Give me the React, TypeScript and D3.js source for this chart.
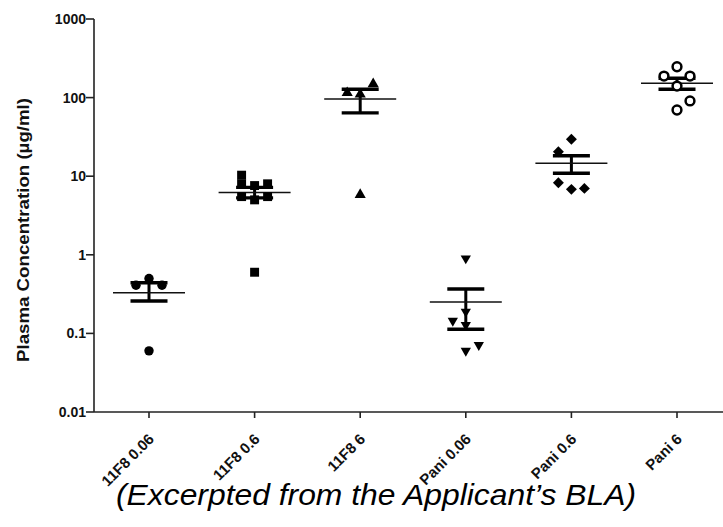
import React from 'react';
import * as d3 from 'd3';

// ---------- data ----------
const categories = ['11F8 0.06', '11F8 0.6', '11F8 6', 'Pani 0.06', 'Pani 0.6', 'Pani 6'];
const yTickValues = [0.01, 0.1, 1, 10, 100, 1000];
const yTickLabels = ['0.01', '0.1', '1', '10', '100', '1000'];

const g1Values = [0.5, 0.41, 0.41, 0.06];
const g1Slots = [0, -1, 1, 0];
const g2Values = [10.3, 8.0, 7.6, 8.0, 5.5, 5.0, 5.5, 0.6];
const g2Slots = [-1, -1, 0, 1, -1, 0, 1, 0];
const g3Values = [149, 115, 110, 5.8];
const g3Slots = [1, -1, 0, 0];
const g4Values = [0.9, 0.189, 0.145, 0.128, 0.06, 0.071];
const g4Slots = [0, 0, -1, 0, 0, 1];
const g5Values = [29.5, 20.5, 8.26, 6.8, 7.0];
const g5Slots = [0, -1, -1, 0, 1];
const g6Values = [247, 188, 188, 140, 69.5, 90.6];
const g6Slots = [0, -1, 1, 0, 0, 1];

const groupValues = [g1Values, g2Values, g3Values, g4Values, g5Values, g6Values];
const groupSlots = [g1Slots, g2Slots, g3Slots, g4Slots, g5Slots, g6Slots];

const means = [0.33, 6.2, 96, 0.25, 14.6, 152];
const semLow = [0.258, 5.3, 64, 0.113, 10.9, 127.6];
const semHigh = [0.44, 7.2, 127.6, 0.367, 18.2, 176];

const markerKinds = ['circle', 'square', 'triangleUp', 'triangleDown', 'diamond', 'openCircle'];

// ---------- layout ----------
const W = 723;
const H = 527;
const axisX = 94;
const axisY = 412;
const topY = 19;
const font = '"Liberation Sans", Arial, Helvetica, sans-serif';

const y = d3.scaleLog().domain([0.01, 1000]).range([axisY, topY]);
const x = d3.scalePoint<string>().domain(categories).range([149, 677]);
const jitter = 13;

function symbolPath(kind: string): { d: string; rotate: number; fill: string; stroke: string; sw: number } {
  switch (kind) {
    case 'circle':
      return { d: d3.symbol().type(d3.symbolCircle).size(Math.PI * 4.7 * 4.7)() as string, rotate: 0, fill: '#000', stroke: 'none', sw: 0 };
    case 'square':
      return { d: d3.symbol().type(d3.symbolSquare).size(80)() as string, rotate: 0, fill: '#000', stroke: 'none', sw: 0 };
    case 'triangleUp':
      return { d: d3.symbol().type(d3.symbolTriangle).size(54)() as string, rotate: 0, fill: '#000', stroke: 'none', sw: 0 };
    case 'triangleDown':
      return { d: d3.symbol().type(d3.symbolTriangle).size(46)() as string, rotate: 180, fill: '#000', stroke: 'none', sw: 0 };
    case 'diamond':
      return { d: d3.symbol().type(d3.symbolSquare).size(60)() as string, rotate: 45, fill: '#000', stroke: 'none', sw: 0 };
    default:
      return { d: d3.symbol().type(d3.symbolCircle).size(Math.PI * 4.4 * 4.4)() as string, rotate: 0, fill: '#fff', stroke: '#000', sw: 2.5 };
  }
}

export default function App() {
  return (
    <svg
      width={W}
      height={H}
      viewBox={`0 0 ${W} ${H}`}
      style={{ position: 'absolute', left: 0, top: 0, background: '#fff' }}
      fontFamily={font}
    >
      <rect x={0} y={0} width={W} height={H} fill="#fff" />

      {/* Y axis */}
      <line x1={axisX} x2={axisX} y1={topY} y2={axisY} stroke="#222" strokeWidth={1.6} />
      {yTickValues.map((v, i) => (
        <g key={'yt' + i}>
          <line x1={axisX - 8} x2={axisX} y1={y(v)} y2={y(v)} stroke="#222" strokeWidth={1.6} />
          <text
            x={axisX - 8}
            y={y(v)}
            dy="0.36em"
            textAnchor="end"
            fontSize={14}
            fontWeight="bold"
            fill="#111"
          >
            {yTickLabels[i]}
          </text>
        </g>
      ))}
      <text
        transform={`translate(29, 230) rotate(-90)`}
        textAnchor="middle"
        fontSize={17}
        fontWeight="bold"
        fill="#111"
        textLength={264}
        lengthAdjust="spacingAndGlyphs"
      >
        Plasma Concentration (µg/ml)
      </text>

      {/* X axis */}
      <line x1={axisX} x2={W} y1={axisY} y2={axisY} stroke="#222" strokeWidth={1.6} />
      {categories.map((c) => (
        <g key={'xt' + c}>
          <line x1={x(c)} x2={x(c)} y1={axisY} y2={axisY + 6} stroke="#222" strokeWidth={1.6} />
          <text
            transform={`translate(${(x(c) as number) + 6}, ${axisY + 28}) rotate(-45)`}
            textAnchor="end"
            fontSize={15}
            fontWeight="bold"
            fill="#111"
          >
            {c}
          </text>
        </g>
      ))}

      {/* Mean and SEM */}
      {categories.map((c, i) => {
        const cx = x(c) as number;
        return (
          <g key={'m' + c}>
            <line x1={cx} x2={cx} y1={y(semLow[i])} y2={y(semHigh[i])} stroke="#000" strokeWidth={3} />
            <line x1={cx - 18.5} x2={cx + 18.5} y1={y(semLow[i])} y2={y(semLow[i])} stroke="#000" strokeWidth={3.4} />
            <line x1={cx - 18.5} x2={cx + 18.5} y1={y(semHigh[i])} y2={y(semHigh[i])} stroke="#000" strokeWidth={3.4} />
            <line x1={cx - 36} x2={cx + 36} y1={y(means[i])} y2={y(means[i])} stroke="#111" strokeWidth={1.5} />
          </g>
        );
      })}

      {/* Points */}
      {categories.map((c, i) => {
        const cx = x(c) as number;
        const s = symbolPath(markerKinds[i]);
        return (
          <g key={'p' + c}>
            {groupValues[i].map((v, j) => (
              <path
                key={j}
                d={s.d}
                transform={`translate(${cx + groupSlots[i][j] * jitter}, ${y(v)}) rotate(${s.rotate})`}
                fill={s.fill}
                stroke={s.stroke}
                strokeWidth={s.sw}
              />
            ))}
          </g>
        );
      })}

      {/* Caption */}
      <text
        x={376}
        y={505}
        textAnchor="middle"
        fontSize={30}
        fontStyle="italic"
        fill="#000"
        textLength={520}
        lengthAdjust="spacingAndGlyphs"
      >
        (Excerpted from the Applicant’s BLA)
      </text>
    </svg>
  );
}
